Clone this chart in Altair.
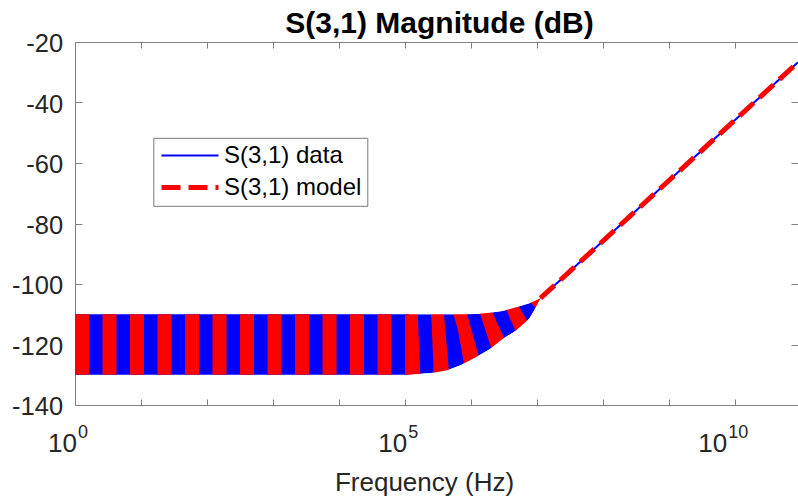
import altair as alt
import numpy as np
import pandas as pd

# ---------------- data ----------------
# Low frequencies: the measured S(3,1) data (and the model) oscillate inside a band
band_logf = [0.0, 5.06, 5.43, 5.64, 5.84, 6.07, 6.28, 6.47, 6.67, 6.88, 6.96, 7.05]
band_upper = [-110.0, -110.0, -110.0, -110.0, -110.0, -109.9, -109.5, -108.9, -107.8, -106.4, -105.6, -104.7]
band_lower = [-130.0, -130.0, -129.3, -128.5, -126.9, -124.2, -121.6, -118.3, -115.5, -111.5, -108.5, -104.7]
# High frequencies: data and model coincide (about +20 dB / decade)
line_logf = [7.05, 8.0, 9.0, 10.0, 10.95]
line_db = [-104.7, -85.7, -65.7, -45.7, -26.7]

series_names = ["S(3,1) data", "S(3,1) model"]
series_colors = ["#0000ff", "#ff0000"]
series_widths = [2, 5]
series_dash = [[1, 0], [19, 8]]

title_text = "S(3,1) Magnitude (dB)"
x_title = "Frequency (Hz)"
y_ticks = [-140, -120, -100, -80, -60, -40, -20]
x_decades = list(range(0, 11))
x_label_exps = [0, 5, 10]

# ---------------- layout / style ----------------
W, H = 723, 363
FONT = "Liberation Sans"
TXT = "#262626"
AX = "#808080"
PX_PER_DB = H / 120.0

xscale = alt.Scale(type="log", domain=[1, 10 ** 10.95], nice=False)
yscale = alt.Scale(domain=[-140, -20], nice=False, zero=False)

band = pd.DataFrame({
    "freq": [10 ** v for v in band_logf],
    "upper": band_upper,
    "lower": band_lower,
})
band["center"] = (band["upper"] + band["lower"]) / 2

# region where the oscillating band bends into the line (used to trim the dashed band)
mask = pd.DataFrame({
    "freq": [10 ** v for v in band_logf if v >= 5.0] + [10 ** line_logf[1]],
    "up": [u for v, u in zip(band_logf, band_upper) if v >= 5.0] + [line_db[1]],
    "lo": [l for v, l in zip(band_logf, band_lower) if v >= 5.0] + [line_db[1]],
})

lines = pd.DataFrame({
    "freq": [10 ** v for v in line_logf] * 2,
    "db": line_db * 2,
    "series": [series_names[0]] * len(line_logf) + [series_names[1]] * len(line_logf),
})


def X(axis=None):
    return alt.X("freq:Q", scale=xscale, axis=axis, title=None)


bottom_axis = alt.Axis(orient="bottom", offset=-6, tickSize=6, values=[10 ** d for d in x_decades],
                       labels=False, domain=False, grid=False, tickColor=AX, title=x_title,
                       titleFont=FONT, titleFontSize=26, titleFontWeight="normal", titleColor=TXT,
                       titleBaseline="alphabetic", titleY=91, titleX=349)
left_axis = alt.Axis(orient="left", offset=-7, tickSize=7, values=y_ticks, labelExpr="'' + datum.value",
                     labelFont=FONT, labelFontSize=25.5, labelColor=TXT, labelPadding=12.4,
                     labelOffset=1.5, domain=False, grid=False, tickColor=AX, title=None)
top_axis = alt.Axis(orient="top", offset=-6, tickSize=6, values=[10 ** d for d in x_decades],
                    labels=False, domain=False, grid=False, tickColor=AX, title=None)
right_axis = alt.Axis(orient="right", offset=-7, tickSize=7, values=y_ticks, labels=False,
                      domain=False, grid=False, tickColor=AX, title=None)

# 1. blue band of the oscillating data
blue_band = alt.Chart(band).mark_area(color=series_colors[0], clip=True, opacity=1).encode(
    x=X(bottom_axis),
    y=alt.Y("lower:Q", scale=yscale, axis=left_axis, title=None),
    y2="upper:Q",
)

# 2. the dashed model drawn over the oscillating data -> red vertical stripes
red_band = alt.Chart(band).mark_line(
    color=series_colors[1], strokeWidth=20 * PX_PER_DB, strokeDash=[14, 13.5],
    strokeCap="butt", strokeJoin="round", clip=True,
).encode(x=X(), y=alt.Y("center:Q", scale=yscale, axis=None))

# 3./4. trim the stripes to the band envelope
upper_mask = alt.Chart(mask).mark_area(color="white", clip=True, opacity=1).encode(
    x=X(top_axis),
    y=alt.Y("up:Q", scale=yscale, axis=right_axis, title=None),
    y2=alt.datum(-80),
)
lower_mask = alt.Chart(mask).mark_area(color="white", clip=True, opacity=1).encode(
    x=X(), y=alt.Y("lo:Q", scale=yscale, axis=None), y2=alt.datum(-137),
)

# 5. high-frequency data & model lines (carry the legend)
line_layer = alt.Chart(lines).mark_line(clip=True).encode(
    x=X(),
    y=alt.Y("db:Q", scale=yscale, axis=None),
    color=alt.Color("series:N", scale=alt.Scale(domain=series_names, range=series_colors), title=None),
    strokeDash=alt.StrokeDash("series:N", scale=alt.Scale(domain=series_names, range=series_dash), title=None),
    strokeWidth=alt.StrokeWidth("series:N", scale=alt.Scale(type="point", domain=series_names,
                                                            range=series_widths, padding=0), title=None),
)

# 6. x tick labels with superscript exponents
label_layers = []
for e in x_label_exps:
    d = pd.DataFrame({"freq": [10 ** e], "exp": [str(e)]})
    dxb = 2 if len(str(e)) == 1 else -8
    label_layers.append(alt.Chart(d).mark_text(
        text="10", align="right", baseline="alphabetic", dx=dxb, font=FONT, fontSize=26, color=TXT
    ).encode(x=X(), y=alt.value(H + 47)))
    label_layers.append(alt.Chart(d).mark_text(
        align="left", baseline="alphabetic", dx=dxb + 1, font=FONT, fontSize=18, color=TXT
    ).encode(x=X(), y=alt.value(H + 33), text="exp:N"))

# 7. title
title_layer = alt.Chart(pd.DataFrame({"t": [title_text]})).mark_text(
    align="center", baseline="alphabetic", font=FONT, fontSize=30, fontWeight="bold", color="#000000"
).encode(x=alt.value(W / 2 + 3), y=alt.value(-9.5), text="t:N")

chart = alt.layer(
    blue_band, red_band, upper_mask, lower_mask, line_layer, *label_layers, title_layer
).resolve_axis(
    x="independent", y="independent"
).properties(
    width=W, height=H,
    autosize=alt.AutoSizeParams(type="none"),
    padding={"left": 75, "top": 42, "right": 0, "bottom": 94},
).configure(background="white").configure_view(
    stroke=AX, strokeWidth=1
).configure_legend(
    orient="none", legendX=78.3, legendY=95.8, padding=5.7,
    strokeColor="#7a7a7a", fillColor="white",
    labelFont=FONT, labelFontSize=24, labelColor="#000000", labelOffset=3, labelLimit=400,
    rowPadding=8, clipHeight=24, symbolSize=3249, symbolType="stroke",
)

chart.save("out.html", embed_options={"renderer": "svg", "actions": False})
